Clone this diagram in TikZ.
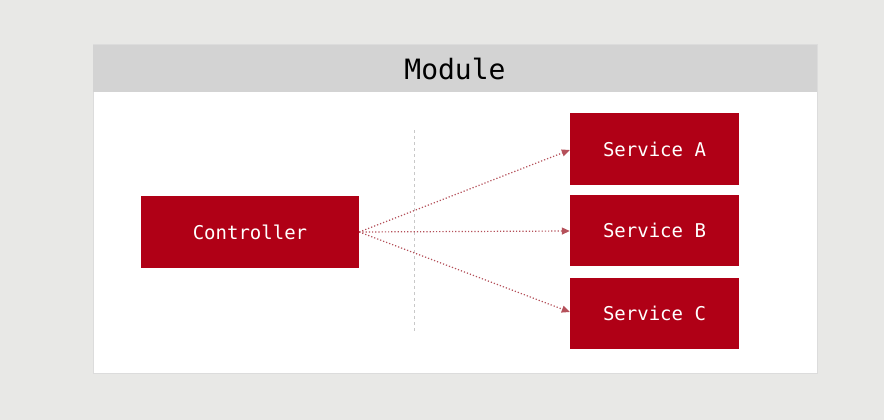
\documentclass[tikz,border=0pt]{standalone}
\usepackage{fontspec}
\setmonofont{DejaVu Sans Mono}
\usetikzlibrary{arrows.meta}
\definecolor{bg}{HTML}{E8E8E6}
\definecolor{hdr}{HTML}{D3D3D3}
\definecolor{red1}{HTML}{B00016}
\definecolor{arr}{HTML}{B5505A}
\definecolor{sep}{HTML}{C8C8C8}
\begin{document}
\begin{tikzpicture}[x=1pt,y=-1pt,
  box/.style={fill=red1,draw=none,minimum width=#1,inner sep=0pt,text=white,font=\ttfamily\fontsize{19}{22}\selectfont},
  link/.style={arr,dash pattern=on 1.2pt off 2pt,line width=1.2pt,-{Triangle[length=8pt,width=7pt]}}]
\fill[bg] (0,0) rectangle (884,420);
\useasboundingbox (0,0) rectangle (884,420);
\draw[fill=white,draw=hdr!80!white,line width=1pt] (93,45) rectangle (817,373);
\fill[hdr] (93,45) rectangle (817,92);
\node[font=\ttfamily\fontsize{28}{32}\selectfont] (module) at (455,69) {Module};
\draw[sep,dashed,line width=0.8pt] (414,130) -- (414,332);
\node[box=218pt,minimum height=72pt] (ctrl) at (250,232) {Controller};
\node[box=169pt,minimum height=72pt] (sa) at (654.5,149) {Service A};
\node[box=169pt,minimum height=71pt] (sb) at (654.5,230.5) {Service B};
\node[box=169pt,minimum height=71pt] (sc) at (654.5,313.5) {Service C};
\draw[link] (ctrl.east) -- (sa.west |- 0,150);
\draw[link] (ctrl.east) -- (sb.west |- 0,231);
\draw[link] (ctrl.east) -- (sc.west |- 0,312);
\end{tikzpicture}
\end{document}
